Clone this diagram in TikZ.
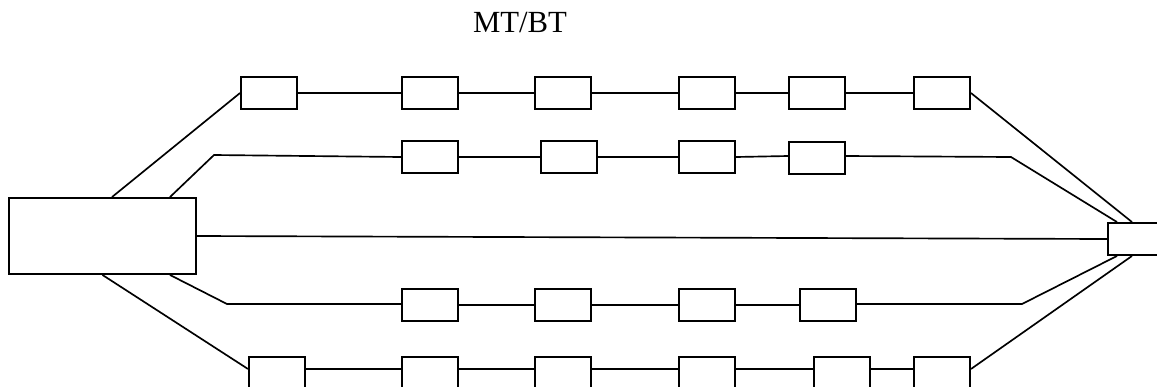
\documentclass[tikz,border=0pt]{standalone}
\usepackage{fontspec}
\setmainfont{Liberation Serif}
\usepackage{tikz}

\begin{document}
\begin{tikzpicture}[x=0.02cm,y=-0.02cm]
            \tikzset{
                box/.style={rectangle,draw,line width=1.1pt,fill=white,inner sep=0pt,
                    minimum width=1.12cm,minimum height=0.64cm},
                link/.style={line width=0.95pt}
            }
            \useasboundingbox (0,0) rectangle (1157,386);
            \clip (0,0) rectangle (1157,386);

            % title
            \node[anchor=base,font=\fontsize{17.5}{21}\selectfont] (title) at (520,32) {MT/BT};

            % end boxes
            \node[box,minimum width=3.74cm,minimum height=1.52cm] (src) at (102.5,236) {};
            \node[box,minimum width=1.04cm] (dst) at (1134,239) {};

            % upper rows
            \node[box] (t1) at (269,93) {};
            \node[box] (t2) at (430,93) {};
            \node[box] (t3) at (563,93) {};
            \node[box] (t4) at (707,93) {};
            \node[box] (t5) at (817,93) {};
            \node[box] (t6) at (942,93) {};

            \node[box] (s1) at (430,157) {};
            \node[box] (s2) at (569,157) {};
            \node[box] (s3) at (707,157) {};
            \node[box] (s4) at (817,158) {};

            % lower rows
            \node[box] (u1) at (430,305) {};
            \node[box] (u2) at (563,305) {};
            \node[box] (u3) at (707,305) {};
            \node[box] (u4) at (828,305) {};

            \node[box] (b1) at (277,373) {};
            \node[box] (b2) at (430,373) {};
            \node[box] (b3) at (563,373) {};
            \node[box] (b4) at (707,373) {};
            \node[box] (b5) at (842,373) {};
            \node[box] (b6) at (942,373) {};

            % bends
            \coordinate (s0) at (214,155);
            \coordinate (s5) at (1011,157);
            \coordinate (u0) at (227,304);
            \coordinate (u5) at (1022,304);

            %edges
            \draw[link] ([xshift=0.19cm]src.north) -- (t1.west);
            \draw[link] (t1) -- (t2) -- (t3) -- (t4) -- (t5) -- (t6);
            \draw[link] (t6.east) -- ([xshift=-0.04cm]dst.north);

            \draw[link] ([xshift=1.35cm]src.north) -- (s0) -- (s1.west);
            \draw[link] (s1) -- (s2) -- (s3);
            \draw[link] (s3.east) -- ([yshift=0.04cm]s4.west);
            \draw[link] ([yshift=0.04cm]s4.east) -- (s5) -- ([xshift=-0.34cm]dst.north);

            \draw[link] (src.east) -- (dst.west);

            \draw[link] ([xshift=1.35cm]src.south) -- (u0) -- ([yshift=0.02cm]u1.west);
            \draw[link] (u1) -- (u2) -- (u3) -- (u4);
            \draw[link] ([yshift=0.02cm]u4.east) -- (u5) -- ([xshift=-0.34cm]dst.south);

            \draw[link] (src.south) -- ([yshift=0.08cm]b1.west);
            \draw[link] ([yshift=0.08cm]b1.east) -- ([yshift=0.08cm]b2.west);
            \draw[link] ([yshift=0.08cm]b2.east) -- ([yshift=0.08cm]b3.west);
            \draw[link] ([yshift=0.08cm]b3.east) -- ([yshift=0.08cm]b4.west);
            \draw[link] ([yshift=0.08cm]b4.east) -- ([yshift=0.08cm]b5.west);
            \draw[link] ([yshift=0.08cm]b5.east) -- ([yshift=0.08cm]b6.west);
            \draw[link] ([yshift=0.08cm]b6.east) -- ([xshift=-0.04cm]dst.south);
\end{tikzpicture}
\end{document}
